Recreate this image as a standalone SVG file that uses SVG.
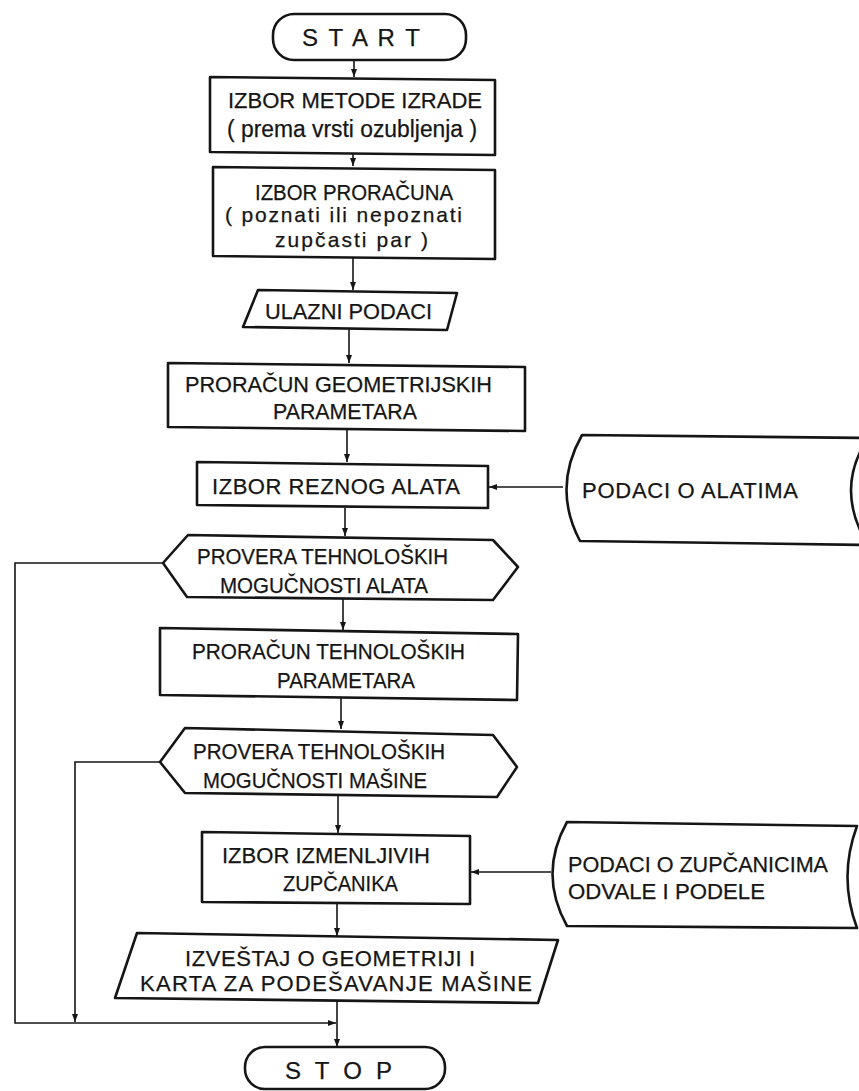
<svg xmlns="http://www.w3.org/2000/svg" width="859" height="1091" viewBox="0 0 859 1091">
<style>
.n{fill:#fff;stroke:#151515;stroke-width:2.6;stroke-linejoin:round}
.c{fill:none;stroke:#151515;stroke-width:1.6}
.t{font-family:"Liberation Sans",Arial,sans-serif;font-size:22px;fill:#151515;stroke:#151515;stroke-width:0.25}
.l{font-size:23px}
.m{font-size:21px}
.s{font-size:24px}
</style>
<defs>
<marker id="ah" markerUnits="userSpaceOnUse" markerWidth="9" markerHeight="7" refX="8" refY="3.5" orient="auto">
<path d="M0,0.5 L8,3.5 L0,6.5 z" fill="#151515"/>
</marker>
</defs>
<rect width="859" height="1091" fill="#fff"/>
<g id="connectors">
<line class="c" x1="354" y1="60" x2="354" y2="77" marker-end="url(#ah)"/>
<line class="c" x1="353" y1="153" x2="353" y2="166" marker-end="url(#ah)"/>
<line class="c" x1="353" y1="258" x2="353" y2="290" marker-end="url(#ah)"/>
<line class="c" x1="349" y1="329" x2="349" y2="363" marker-end="url(#ah)"/>
<line class="c" x1="347" y1="430" x2="347" y2="462" marker-end="url(#ah)"/>
<line class="c" x1="345" y1="508" x2="345" y2="536" marker-end="url(#ah)"/>
<line class="c" x1="343" y1="599" x2="343" y2="630" marker-end="url(#ah)"/>
<line class="c" x1="341" y1="697" x2="341" y2="729" marker-end="url(#ah)"/>
<line class="c" x1="338" y1="795" x2="338" y2="833" marker-end="url(#ah)"/>
<line class="c" x1="337" y1="903" x2="337" y2="936" marker-end="url(#ah)"/>
<line class="c" x1="337" y1="1001" x2="337" y2="1047" marker-end="url(#ah)"/>
<line class="c" x1="563" y1="487" x2="489" y2="487" marker-end="url(#ah)"/>
<line class="c" x1="551" y1="872" x2="471" y2="872" marker-end="url(#ah)"/>
<polyline class="c" points="163,563 15,563 15,1023 336,1023" marker-end="url(#ah)"/>
<polyline class="c" points="160,762 75,762 75,1022" marker-end="url(#ah)"/>
</g>
<g id="start">
<rect class="n" x="273" y="14" width="193" height="46" rx="21" ry="21"/>
<text class="t s" x="302" y="46" textLength="118" lengthAdjust="spacing">S T A R T</text>
</g>
<g id="izbor-metode">
<polygon class="n" points="210,77 495,80 495,155 210,152"/>
<text class="t" x="228" y="108" textLength="254" lengthAdjust="spacingAndGlyphs">IZBOR METODE IZRADE</text>
<text class="t l" x="227" y="137" textLength="250" lengthAdjust="spacingAndGlyphs">( prema vrsti ozubljenja )</text>
</g>
<g id="izbor-proracuna">
<polygon class="n" points="213,167 495,170 495,259 213,256"/>
<text class="t" x="255" y="200" textLength="198" lengthAdjust="spacingAndGlyphs">IZBOR PRORAČUNA</text>
<text class="t m" x="225" y="222" textLength="237" lengthAdjust="spacing">( poznati ili nepoznati</text>
<text class="t m" x="275" y="247" textLength="153" lengthAdjust="spacing">zupčasti par )</text>
</g>
<g id="ulazni-podaci">
<polygon class="n" points="258,290 457,293 447,330 243,327"/>
<text class="t" x="265" y="319" textLength="167" lengthAdjust="spacingAndGlyphs">ULAZNI PODACI</text>
</g>
<g id="proracun-geometrijskih">
<polygon class="n" points="168,363 525,367 525,431 168,427"/>
<text class="t" x="185" y="392" textLength="307" lengthAdjust="spacingAndGlyphs">PRORAČUN GEOMETRIJSKIH</text>
<text class="t" x="273" y="419" textLength="144" lengthAdjust="spacingAndGlyphs">PARAMETARA</text>
</g>
<g id="izbor-reznog-alata">
<polygon class="n" points="197,462 488,466 488,508 197,505"/>
<text class="t" x="212" y="494" textLength="248" lengthAdjust="spacing">IZBOR REZNOG ALATA</text>
</g>
<g id="podaci-alatima">
<path class="n" d="M 870,438 L 582,435 Q 552,488 580,541 L 870,545"/>
<path class="c" style="stroke-width:2.6" d="M 860,452 Q 842,490 860,530"/>
<text class="t" x="582" y="498" textLength="216" lengthAdjust="spacing">PODACI O ALATIMA</text>
</g>
<g id="provera-alata">
<polygon class="n" points="163,563 188,535 493,540 518,567 493,600 187,597"/>
<text class="t" x="197" y="564" textLength="251" lengthAdjust="spacingAndGlyphs">PROVERA TEHNOLOŠKIH</text>
<text class="t" x="220" y="593" textLength="208" lengthAdjust="spacingAndGlyphs">MOGUČNOSTI ALATA</text>
</g>
<g id="proracun-tehnoloskih">
<polygon class="n" points="160,628 518,634 517,700 160,695"/>
<text class="t" x="192" y="659" textLength="273" lengthAdjust="spacingAndGlyphs">PRORAČUN TEHNOLOŠKIH</text>
<text class="t" x="277" y="688" textLength="138" lengthAdjust="spacingAndGlyphs">PARAMETARA</text>
</g>
<g id="provera-masine">
<polygon class="n" points="160,762 185,728 493,735 517,767 497,797 185,793"/>
<text class="t" x="193" y="759" textLength="252" lengthAdjust="spacingAndGlyphs">PROVERA TEHNOLOŠKIH</text>
<text class="t" x="203" y="788" textLength="224" lengthAdjust="spacingAndGlyphs">MOGUČNOSTI MAŠINE</text>
</g>
<g id="izbor-zupcanika">
<polygon class="n" points="202,832 470,836 470,904 202,902"/>
<text class="t" x="222" y="863" textLength="208" lengthAdjust="spacingAndGlyphs">IZBOR IZMENLJIVIH</text>
<text class="t" x="283" y="891" textLength="115" lengthAdjust="spacingAndGlyphs">ZUPČANIKA</text>
</g>
<g id="podaci-zupcanicima">
<path class="n" d="M 567,822 L 857,826 Q 838,877 857,928 L 567,926 Q 538,874 567,822 Z"/>
<text class="t" x="568" y="872" textLength="260" lengthAdjust="spacingAndGlyphs">PODACI O ZUPČANICIMA</text>
<text class="t" x="568" y="899" textLength="197" lengthAdjust="spacingAndGlyphs">ODVALE I PODELE</text>
</g>
<g id="izvestaj">
<polygon class="n" points="137,933 558,940 538,1003 115,998"/>
<text class="t" x="185" y="966" textLength="290" lengthAdjust="spacing">IZVEŠTAJ O GEOMETRIJI I</text>
<text class="t" x="140" y="991" textLength="392" lengthAdjust="spacing">KARTA ZA PODEŠAVANJE MAŠINE</text>
</g>
<g id="stop">
<rect class="n" x="245" y="1047" width="200" height="42" rx="20" ry="20"/>
<text class="t s" x="285" y="1079" textLength="107" lengthAdjust="spacing">S T O P</text>
</g>
</svg>
